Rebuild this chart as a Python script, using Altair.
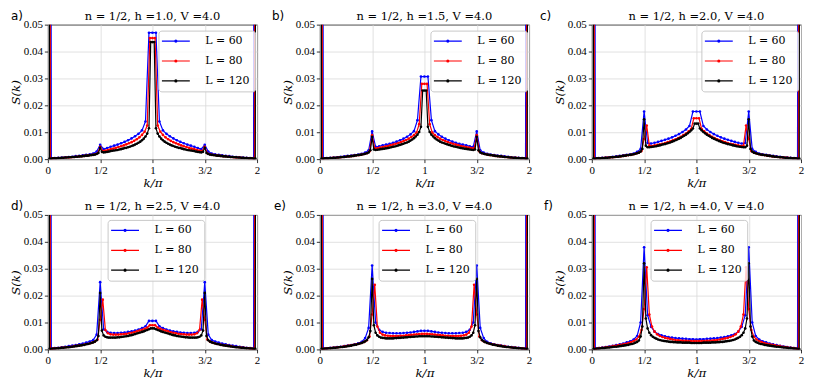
import altair as alt
import pandas as pd

SERIES = ["L = 60", "L = 80", "L = 120"]
COLORS = ["blue", "red", "black"]
TITLES = ["n = 1/2, h =1.0, V =4.0", "n = 1/2, h =1.5, V =4.0", "n = 1/2, h =2.0, V =4.0",
          "n = 1/2, h =2.5, V =4.0", "n = 1/2, h =3.0, V =4.0", "n = 1/2, h =4.0, V =4.0"]
LETTERS = ["a)", "b)", "c)", "d)", "e)", "f)"]
X_TICKS = [0, 0.5, 1, 1.5, 2]
Y_TICKS = [0, 0.01, 0.02, 0.03, 0.04, 0.05]
UNIT = 1e-4  # values below are S(k) in units of 1e-4

# panel a (h=1.0)
a60 = [9000,3,4,5,6,7,8,9,11,12,14,16,18,21,28,53,37,41,46,50,54,59,64,70,77,85,94,107,140,470,470,
       470,140,107,94,85,77,70,64,59,54,50,46,41,37,53,28,21,18,16,14,12,11,9,8,7,6,5,4,3,9000]
a80 = [9000,2,3,3,4,4,5,6,6,7,8,9,10,11,12,13,15,16,18,22,46,30,32,34,37,39,42,45,48,51,55,59,63,68,74,81,90,102,125,450,450,
       450,125,102,90,81,74,68,63,59,55,51,48,45,42,39,37,34,32,30,46,22,18,16,15,13,12,11,10,9,8,7,6,6,5,4,4,3,3,2,9000]
a120 = [9000,2,2,3,3,3,4,4,5,5,6,6,7,7,8,8,9,9,10,10,11,12,13,13,14,15,16,17,19,23,42,
        27,25,26,27,28,30,31,32,33,34,36,37,39,41,42,44,46,49,51,54,57,61,65,70,76,84,95,115,435,435,
        435,115,95,84,76,70,65,61,57,54,51,49,46,44,42,41,39,37,36,34,33,32,31,30,28,27,26,25,27,42,
        23,19,17,16,15,14,13,13,12,11,10,10,9,9,8,8,7,7,6,6,5,5,4,4,3,3,3,2,2,9000]

# panel b (h=1.5)
b60 = [9000,3,4,5,6,7,9,10,12,13,15,17,20,24,33,103,46,48,51,54,57,61,65,70,76,83,92,104,145,307,307,
       307,145,104,92,83,76,70,65,61,57,54,51,48,46,103,33,24,20,17,15,13,12,10,9,7,6,5,4,3,9000]
b80 = [9000,2,3,3,4,5,5,6,7,8,9,10,11,12,14,15,17,19,22,29,89,40,41,43,45,47,49,52,54,57,60,63,67,71,76,82,89,99,130,280,280,
       280,130,99,89,82,76,71,67,63,60,57,54,52,49,47,45,43,41,40,89,29,22,19,17,15,14,12,11,10,9,8,7,6,5,5,4,3,3,2,9000]
b120 = [9000,2,2,3,3,3,4,4,5,5,6,6,7,8,8,9,10,10,11,12,13,14,15,16,17,18,20,22,25,33,83,
        36,34,35,36,37,38,39,40,41,43,44,46,47,49,51,53,55,57,60,62,65,69,73,78,84,91,101,120,255,255,
        255,120,101,91,84,78,73,69,65,62,60,57,55,53,51,49,47,46,44,43,41,40,39,38,37,36,35,34,36,83,
        33,25,22,20,18,17,16,15,14,13,12,11,10,10,9,8,8,7,6,6,5,5,4,4,3,3,3,2,2,9000]

# panel c (h=2.0)
c60 = [9000,3,4,5,6,7,9,10,12,14,16,18,21,27,38,177,60,58,61,64,68,72,76,81,87,93,101,110,123,177,177,
       177,123,110,101,93,87,81,76,72,68,64,61,58,60,177,38,27,21,18,16,14,12,10,9,7,6,5,4,3,9000]
c80 = [9000,2,3,3,4,5,6,6,7,8,9,10,12,13,15,16,18,21,24,30,75,125,50,49,51,53,55,57,60,63,66,70,74,78,83,89,95,103,112,152,152,
       152,112,103,95,89,83,78,74,70,66,63,60,57,55,53,51,49,50,125,75,30,24,21,18,16,15,13,12,10,9,8,7,6,6,5,4,3,3,2,9000]
c120 = [9000,2,2,3,3,3,4,4,5,5,6,7,7,8,9,9,10,11,12,13,14,15,16,17,18,20,22,24,28,38,148,
        50,44,44,45,46,47,48,50,51,53,55,56,58,60,62,65,67,70,73,76,79,83,87,91,96,101,107,114,132,132,
        132,114,107,101,96,91,87,83,79,76,73,70,67,65,62,60,58,56,55,53,51,50,48,47,46,45,44,44,50,148,
        38,28,24,22,20,18,17,16,15,14,13,12,11,10,9,9,8,7,7,6,5,5,4,4,3,3,3,2,2,9000]

# panel d (h=2.5)
d60 = [9000,3,5,6,8,10,12,14,16,19,22,25,29,35,55,250,75,65,62,61,61,62,63,65,67,70,74,79,86,106,106,
       106,86,79,74,70,67,65,63,62,61,61,62,65,75,250,55,35,29,25,22,19,16,14,12,10,8,6,5,3,9000]
d80 = [9000,2,3,4,5,6,7,8,9,10,12,13,15,16,18,20,22,25,29,37,110,185,72,60,56,55,55,55,56,57,58,60,62,64,67,70,73,77,81,90,90,
       90,81,77,73,70,67,64,62,60,58,57,56,55,55,55,56,60,72,185,110,37,29,25,22,20,18,16,15,13,12,10,9,8,7,6,5,4,3,2,9000]
d120 = [9000,2,2,3,3,4,4,5,6,6,7,8,8,9,10,11,12,13,14,15,16,17,19,20,22,24,26,29,34,50,210,
        70,52,47,45,44,44,44,44,44,45,45,46,47,48,49,50,52,53,55,57,59,61,63,65,67,70,72,75,78,78,
        78,75,72,70,67,65,63,61,59,57,55,53,52,50,49,48,47,46,45,45,44,44,44,44,44,45,47,52,70,210,
        50,34,29,26,24,22,20,19,17,16,15,14,13,12,11,10,9,8,8,7,6,6,5,4,4,3,3,2,2,9000]

# panel e (h=3.0)
e60 = [9000,3,4,6,7,9,10,12,14,16,19,23,28,42,80,312,100,73,65,62,61,60,60,60,61,62,63,65,67,69,69,
       69,67,65,63,62,61,60,60,60,61,62,65,73,100,312,80,42,28,23,19,16,14,12,10,9,7,6,4,3,9000]
e80 = [9000,2,3,4,5,6,7,8,9,11,12,14,15,17,19,21,24,28,34,48,130,240,85,62,55,52,51,50,50,50,50,51,51,52,53,54,55,56,57,58,58,
       58,57,56,55,54,53,52,51,51,50,50,50,50,51,52,55,62,85,240,130,48,34,28,24,21,19,17,15,14,12,11,9,8,7,6,5,4,3,2,9000]
e120 = [9000,2,2,3,3,4,4,5,6,6,7,8,9,9,10,11,12,13,14,16,17,18,20,22,24,27,30,35,45,68,262,
        90,62,52,47,44,43,42,41,41,41,41,41,42,42,43,43,44,44,45,45,46,46,47,47,48,48,49,49,49,49,
        49,49,49,48,48,47,47,46,46,45,45,44,44,43,43,42,42,41,41,41,41,41,42,43,44,47,52,62,90,262,
        68,45,35,30,27,24,22,20,18,17,16,14,13,12,11,10,9,9,8,7,6,6,5,4,4,3,3,2,2,9000]

# panel f (h=4.0)
f60 = [9000,3,5,7,9,11,13,16,19,22,26,30,37,50,100,380,127,84,66,57,52,49,46,44,42,41,40,39,38,38,37,
       38,38,39,40,41,42,44,46,49,52,57,66,84,127,380,100,50,37,30,26,22,19,16,13,11,9,7,5,3,9000]
f80 = [9000,2,3,5,6,7,9,10,12,13,15,17,19,21,24,27,31,37,47,72,150,305,130,85,66,56,50,46,43,41,39,37,35,34,33,32,32,31,31,31,31,
       31,31,31,32,32,33,34,35,37,39,41,43,46,50,56,66,85,130,305,150,72,47,37,31,27,24,21,19,17,15,13,12,10,9,7,6,5,3,2,9000]
f120 = [9000,1,2,3,3,4,5,5,6,7,7,8,9,10,10,11,12,13,14,15,16,17,19,20,22,25,28,33,48,85,320,
        115,78,62,53,47,43,40,37,35,33,32,31,30,29,28,28,27,27,26,26,26,25,25,25,25,25,24,24,24,24,
        24,24,24,25,25,25,25,25,26,26,26,27,27,28,28,29,30,31,32,33,35,37,40,43,47,53,62,78,115,320,
        85,48,33,28,25,22,20,19,17,16,15,14,13,12,11,10,10,9,8,7,7,6,5,5,4,3,3,2,1,9000]

PANELS = [(a60, a80, a120), (b60, b80, b120), (c60, c80, c120),
          (d60, d80, d120), (e60, e80, e120), (f60, f80, f120)]

W, H = 210, 135
LEG_X = [111, 111, 110, 60, 59, 59]
LEG_Y = [6, 6, 6, 5, 5, 5]
LET_X = [-37, -48, -52, -37, -46, -48]

# legend glyph: a 28px line with a small dot (nominal symbol box ~8.8px)
SYMBOL = "M-3.17,0H3.17M-0.23,0A0.23,0.23,0,1,1,0.23,0A0.23,0.23,0,1,1,-0.23,0Z"


def make_df(lists):
    rows = []
    for name, vals in zip(SERIES, lists):
        L = len(vals) - 1
        for n, v in enumerate(vals):
            rows.append({"x": 2 * n / L, "S": v * UNIT, "L": name})
    return pd.DataFrame(rows)


def panel(i):
    df = make_df(PANELS[i])
    layers = []
    for s in SERIES:  # draw L=60 first, L=120 last (on top)
        layers.append(alt.Chart(df).transform_filter(alt.datum.L == s).mark_line(
            strokeWidth=1.2, clip=True,
            point=alt.OverlayMarkDef(filled=True, size=7, clip=True),
        ).encode(
            x=alt.X("x:Q", scale=alt.Scale(domain=[0, 2], nice=False, zero=False),
                    axis=alt.Axis(values=X_TICKS, title="k/π",
                                  labelExpr="datum.value == 0.5 ? '1/2' : (datum.value == 1.5 ? '3/2' : format(datum.value, 'd'))")),
            y=alt.Y("S:Q", scale=alt.Scale(domain=[0, 0.05], nice=False),
                    axis=alt.Axis(values=Y_TICKS, format=".2f", title="S(k)")),
            color=alt.Color("L:N", scale=alt.Scale(domain=SERIES, range=COLORS),
                            legend=alt.Legend(title=None, orient="none", legendX=LEG_X[i], legendY=LEG_Y[i],
                                              symbolType=SYMBOL, symbolSize=78, symbolOffset=7,
                                              labelOffset=24)),
        ))
    letter = alt.Chart(pd.DataFrame({"t": [LETTERS[i]]})).mark_text(
        align="left", baseline="top", font="DejaVu Sans", fontSize=12, color="black"
    ).encode(x=alt.value(LET_X[i]), y=alt.value(-14), text="t:N")
    title = alt.Chart(pd.DataFrame({"t": [TITLES[i]]})).mark_text(
        align="center", baseline="alphabetic", font="DejaVu Serif", fontSize=11.5, color="black"
    ).encode(x=alt.value(W / 2), y=alt.value(-5), text="t:N")
    return alt.layer(*layers, letter, title).properties(width=W, height=H)


def row(idx):
    return alt.hconcat(*[panel(i) for i in idx], spacing=63, bounds="flush").resolve_scale(
        color="independent").resolve_legend(color="independent")


chart = alt.vconcat(row([0, 1, 2]), row([3, 4, 5]), spacing=10).resolve_scale(
    color="independent").resolve_legend(color="independent").properties(
    padding={"left": 0, "top": 0, "right": 0, "bottom": 0}
).configure_view(stroke="black", strokeWidth=1).configure_axis(
    labelFont="Liberation Serif", labelFontSize=11, labelColor="black",
    titleFont="DejaVu Serif", titleFontSize=12, titleFontStyle="italic",
    titleFontWeight="normal", titleColor="black",
    tickColor="black", tickSize=3.5, tickWidth=0.8, domain=False,
    gridColor="#d9d9d9", gridWidth=0.8, labelFlush=False, labelOverlap=False,
).configure_axisY(titlePadding=1, labelPadding=2).configure_axisX(titlePadding=2, labelPadding=2).configure_legend(
    labelFont="DejaVu Serif", labelFontSize=11, labelColor="black",
    padding=5, strokeColor="#c8c8c8", fillColor="rgba(255,255,255,0.8)", cornerRadius=3,
    symbolStrokeWidth=1.2, rowPadding=8,
)

chart.save("out.html", embed_options={"renderer": "svg", "actions": False})
